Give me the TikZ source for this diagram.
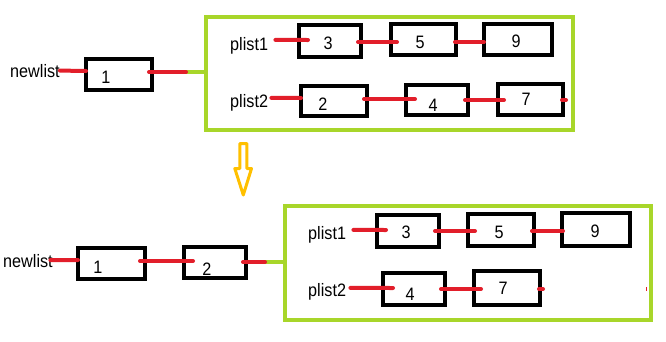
\documentclass[tikz,border=0pt]{standalone}
\usepackage{fontspec}
\setmainfont{Liberation Sans}[FakeStretch=0.9]
\definecolor{lred}{RGB}{226,30,42}
\definecolor{lgreen}{RGB}{168,214,42}
\definecolor{lyellow}{RGB}{255,192,0}
\tikzset{
  cellbox/.style={draw=black,line width=4pt,inner sep=0pt,outer sep=0pt,fill=none},
  frame/.style={draw=lgreen,line width=4pt,inner sep=0pt,outer sep=0pt},
  num/.style={inner sep=0pt,font=\fontsize{18}{18}\selectfont},
  lab/.style={inner sep=0pt,anchor=base west,font=\fontsize{18}{18}\selectfont},
  link/.style={draw=lred,line width=4pt,line cap=round},
  glink/.style={draw=lgreen,line width=4pt},
}
\newcommand{\cell}[8]{%
  \node[cellbox,minimum width=#4pt,minimum height=#5pt] (#1) at (#2,#3) {};
  \node[num] (#1t) at (#7,#8) {#6};}
\begin{document}
\begin{tikzpicture}[x=1pt,y=-1pt]
\useasboundingbox (0,0) rectangle (666,341);
% ---------- top ----------
\node[frame,minimum width=367pt,minimum height=113pt] (G1) at (389.5,73.5) {};
\node[lab] (n1) at (10,77) {newlist};
\node[lab] (p1) at (230,50) {plist1};
\node[lab] (p2) at (230,107) {plist2};
\cell{a1}{119}{74.5}{66}{31}{1}{106}{77}
\cell{t3}{330}{41}{62}{32}{3}{328}{43.5}
\cell{t5}{423.5}{39.5}{65}{31}{5}{420}{42}
\cell{t9}{518}{39.5}{68}{31}{9}{516}{41}
\cell{t2}{334}{101}{66}{30}{2}{323}{104}
\cell{t4}{437}{100}{62}{30}{4}{433}{105}
\cell{t7}{530.5}{99.5}{65}{31}{7}{526}{99}
\draw[link] (n1.east) -- ([yshift=3.5pt]a1.west);
\draw[glink] ([yshift=2.5pt]a1.east) -- ([yshift=1.5pt]G1.west);
\draw[link] ([xshift=-3pt,yshift=2.5pt]a1.east) -- ([xshift=-20pt,yshift=1.5pt]G1.west);
\draw[link] ([xshift=7.2pt,yshift=5.45pt]p1.east) -- ([xshift=9pt,yshift=1pt]t3.west);
\draw[link] ([xshift=-3pt,yshift=-1pt]t3.east) -- ([xshift=6pt,yshift=-2.5pt]t5.west);
\draw[link] ([xshift=-1pt,yshift=-2.5pt]t5.east) -- ([yshift=-2.5pt]t9.west);
\draw[link] ([xshift=3.2pt,yshift=4.45pt]p2.east) -- ([yshift=3pt]t2.west);
\draw[link] ([xshift=-3pt,yshift=2pt]t2.east) -- ([xshift=9pt,yshift=1pt]t4.west);
\draw[link] ([xshift=-3pt]t4.east) -- ([xshift=6pt,yshift=-0.5pt]t7.west);
\draw[link] ([xshift=-1pt,yshift=-0.5pt]t7.east) -- ([xshift=3pt,yshift=-0.5pt]t7.east);
% ---------- arrow ----------
\draw[lyellow,line width=3pt,line join=round,fill=white]
  (239.8,168.5) -- (239.8,143.5) -- (246.8,143.5) -- (246.8,168.5)
  -- (251.5,168.5) -- (243.3,195) -- (234.8,168.5) -- cycle;
% ---------- bottom ----------
\node[frame,minimum width=366pt,minimum height=114pt] (G2) at (468,263) {};
\node[lab] (n2) at (3,267) {newlist};
\node[lab] (q1) at (308,239) {plist1};
\node[lab] (q2) at (308,296) {plist2};
\cell{b1}{111.5}{263.5}{67}{31}{1}{98}{267}
\cell{b2}{215}{262.5}{62}{31}{2}{207}{269}
\cell{c3}{408}{231}{62}{32}{3}{406}{232}
\cell{c5}{501}{230}{66}{32}{5}{499}{232}
\cell{c9}{596}{229.5}{68}{33}{9}{595}{231}
\cell{c4}{414}{289}{62}{32}{4}{410}{294}
\cell{c7}{507}{288}{66}{34}{7}{503}{288}
\draw[link] ([xshift=-2.5pt,yshift=0.5pt]n2.east) -- ([yshift=3.5pt]b1.west);
\draw[link] ([xshift=-5pt,yshift=2.5pt]b1.east) -- ([xshift=9pt,yshift=1.5pt]b2.west);
\draw[glink] ([yshift=0.5pt]b2.east) -- ([yshift=1pt]G2.west);
\draw[link] ([xshift=-3pt,yshift=0.5pt]b2.east) -- ([xshift=-20pt,yshift=1pt]G2.west);
\draw[link] ([xshift=7.2pt,yshift=4.45pt]q1.east) -- ([xshift=9pt,yshift=1pt]c3.west);
\draw[link] ([xshift=-4pt]c3.east) -- ([xshift=7pt,yshift=-1pt]c5.west);
\draw[link] ([xshift=-2pt,yshift=-1pt]c5.east) -- ([xshift=1pt,yshift=-1.5pt]c9.west);
\draw[link] ([xshift=4.2pt,yshift=3.45pt]q2.east) -- ([xshift=10pt,yshift=1pt]c4.west);
\draw[link] ([xshift=-4pt]c4.east) -- ([xshift=7pt,yshift=-1pt]c7.west);
\draw[link] ([xshift=-1pt,yshift=-1pt]c7.east) -- ([xshift=3pt,yshift=-1pt]c7.east);
\draw[lred,line width=1pt] ([xshift=-5pt,yshift=-24pt]G2.east) -- ([xshift=-5pt,yshift=-28pt]G2.east);
\end{tikzpicture}
\end{document}
